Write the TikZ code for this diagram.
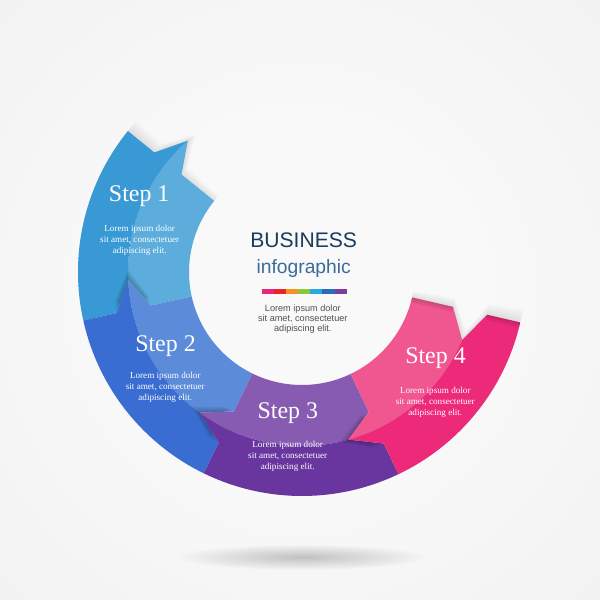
\documentclass[tikz,border=0pt]{standalone}
\usepackage{fontspec}
\setmainfont{Liberation Serif}
\newfontfamily\sansfont{Liberation Sans}
\usetikzlibrary{calc,fadings}

\definecolor{bgin}{RGB}{249,249,249}
\definecolor{bgout}{RGB}{230,230,230}
\definecolor{sAi}{RGB}{92,173,220}
\definecolor{sAo}{RGB}{56,153,212}
\definecolor{sBi}{RGB}{92,139,218}
\definecolor{sBo}{RGB}{58,109,210}
\definecolor{sCi}{RGB}{136,91,178}
\definecolor{sCo}{RGB}{104,54,158}
\definecolor{sDi}{RGB}{240,87,145}
\definecolor{sDo}{RGB}{237,41,121}
\definecolor{navy}{RGB}{26,60,94}
\definecolor{steel}{RGB}{58,107,155}
\definecolor{bodygray}{RGB}{80,80,80}
\definecolor{barA}{RGB}{231,40,122}
\definecolor{barB}{RGB}{230,38,40}
\definecolor{barC}{RGB}{247,147,30}
\definecolor{barD}{RGB}{140,198,62}
\definecolor{barE}{RGB}{41,169,225}
\definecolor{barF}{RGB}{43,109,181}
\definecolor{barG}{RGB}{122,63,154}

\pgfdeclareradialshading{bgshade}{\pgfpoint{0bp}{0bp}}{color(0bp)=(bgin); color(15bp)=(bgin); color(71bp)=(bgout)}
\tikzfading[name=softfade, inner color=transparent!0, outer color=transparent!100]

\def\Rin{113}\def\Rout{224}\def\Rmid{174}\def\Ro{190}\def\Ri{155}\def\Toff{10}

\newcommand\InnerBand[3]{%
 \fill[#1] ($(C)+({#2}:\Rin)$) -- ($(C)+({#2}:\Ri)$) -- ($(C)+({#2-\Toff}:\Rmid)$)
   arc[start angle={#2-\Toff}, end angle={#3-\Toff}, radius=\Rmid]
   -- ($(C)+({#3}:\Ri)$) -- ($(C)+({#3}:\Rin)$)
   arc[start angle={#3}, end angle={#2}, radius=\Rin] -- cycle;}
\newcommand\OuterBand[3]{%
 \fill[#1] ($(C)+({#2-\Toff}:\Rmid)$) -- ($(C)+({#2}:\Ro)$) -- ($(C)+({#2}:\Rout)$)
   arc[start angle={#2}, end angle={#3}, radius=\Rout]
   -- ($(C)+({#3}:\Ro)$) -- ($(C)+({#3-\Toff}:\Rmid)$)
   arc[start angle={#3-\Toff}, end angle={#2-\Toff}, radius=\Rmid] -- cycle;}
\newcommand\TipShade[2]{%
 \fill[#1] ($(C)+({#2}:\Ro)$) -- ($(C)+({#2-\Toff}:\Rmid)$) -- ($(C)+({#2}:\Ri)$) -- cycle;}

\tikzset{
  steplabel/.style={text=white, font=\fontsize{17}{20}\selectfont, anchor=base, inner sep=0pt},
  stepbody/.style={text=white, font=\fontsize{6.5}{7.8}\selectfont, align=center, anchor=base, inner sep=0pt},
  centerbody/.style={text=bodygray, font=\sansfont\fontsize{6.5}{7.1}\selectfont, align=center, anchor=base, inner sep=0pt},
}

\begin{document}
\begin{tikzpicture}[x=0.025cm, y=0.025cm]
\useasboundingbox (0,0) rectangle (600,600);
\shade[shading=bgshade] (0,0) rectangle (600,600);
\coordinate (C) at (302,328);

% floor shadow
\fill[black, opacity=0.22, path fading=softfade] (302,43) ellipse [x radius=125, y radius=13];

% shadow of step 1 front on background
\foreach \d in {0.8,1.6,2.4,3.2} {
  \InnerBand{black,opacity=0.025}{141-\d}{192.5-\d}
  \OuterBand{black,opacity=0.025}{141-\d}{192.5-\d}
}
% step 1
\InnerBand{sAi}{141}{192.5}
\OuterBand{sAo}{141}{192.5}
\foreach \d in {0.8,1.6,2.4,3.2} {\TipShade{black,opacity=0.06}{192.5-\d}}
% step 2
\InnerBand{sBi}{192.5}{244}
\OuterBand{sBo}{192.5}{244}
\foreach \d in {0.8,1.6,2.4,3.2} {\TipShade{black,opacity=0.06}{244-\d}}
% step 3
\InnerBand{sCi}{244}{295.5}
\OuterBand{sCo}{244}{295.5}
\foreach \d in {0.8,1.6,2.4,3.2} {\TipShade{black,opacity=0.06}{295.5-\d}}
% shadow of step 4 back end on background
\foreach \d in {0.8,1.6,2.4,3.2} {
  \InnerBand{black,opacity=0.025}{295.5+\d}{347+\d}
  \OuterBand{black,opacity=0.025}{295.5+\d}{347+\d}
}
% step 4
\InnerBand{sDi}{295.5}{347}
\OuterBand{sDo}{295.5}{347}
% curl darkening at step 4 back end
\begin{scope}
  \clip ($(C)+(295.5:\Rin)$) -- ($(C)+(295.5:\Rout)$)
     arc[start angle=295.5, end angle=347, radius=\Rout]
     -- ($(C)+(347:\Ro)$) -- ($(C)+(337:\Rmid)$) -- ($(C)+(347:\Ri)$) -- ($(C)+(347:\Rin)$)
     arc[start angle=347, end angle=295.5, radius=\Rin] -- cycle;
  \draw[black, opacity=0.08, line width=7pt] ($(C)+(347:\Rout)$) -- ($(C)+(347:\Ro)$);
  \draw[black, opacity=0.08, line width=7pt] ($(C)+(347:\Ri)$) -- ($(C)+(347:\Rin)$);
  \draw[black, opacity=0.07, line width=3pt] ($(C)+(347:\Rout)$) -- ($(C)+(347:\Ro)$);
  \draw[black, opacity=0.07, line width=3pt] ($(C)+(347:\Ri)$) -- ($(C)+(347:\Rin)$);
\end{scope}

% center texts
\node[text=navy, font=\sansfont\fontsize{15}{18}\selectfont, anchor=base, inner sep=0pt] (title) at (303.7,352) {BUSINESS};
\node[text=steel, font=\sansfont\fontsize{13.7}{16}\selectfont, anchor=base, inner sep=0pt] (subtitle) at (303.7,326.7) {infographic};
\foreach \c [count=\i from 0] in {barA,barB,barC,barD,barE,barF,barG} {
  \fill[\c] (261.7+\i*12.14,305.7) rectangle ++(12.14,5.7);
}
\node[centerbody] (cbody) at (302.8,268.3) {Lorem ipsum dolor\\sit amet, consectetuer\\adipiscing elit.};

% step texts
\node[steplabel] (l1) at (139.2,398.3) {Step 1};
\node[stepbody] (b1) at (139.7,346.4) {Lorem ipsum dolor\\sit amet, consectetuer\\adipiscing elit.};
\node[steplabel] (l2) at (165.5,248.3) {Step 2};
\node[stepbody] (b2) at (165.3,199.1) {Lorem ipsum dolor\\sit amet, consectetuer\\adipiscing elit.};
\node[steplabel] (l3) at (287.8,181.7) {Step 3};
\node[stepbody] (b3) at (287.7,130.8) {Lorem ipsum dolor\\sit amet, consectetuer\\adipiscing elit.};
\node[steplabel] (l4) at (435.5,236.7) {Step 4};
\node[stepbody] (b4) at (435.3,184.8) {Lorem ipsum dolor\\sit amet, consectetuer\\adipiscing elit.};
\end{tikzpicture}
\end{document}
